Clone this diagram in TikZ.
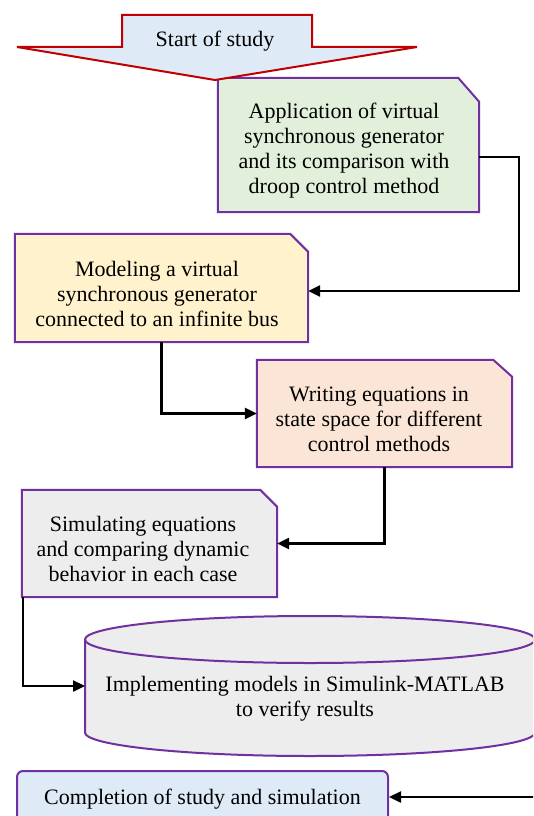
\documentclass[tikz,border=0pt]{standalone}
\usepackage{fontspec}
\setmainfont{Liberation Serif}
\usetikzlibrary{arrows.meta,backgrounds}
\definecolor{purp}{HTML}{7030A0}
\definecolor{redb}{HTML}{C00000}
\definecolor{fgreen}{HTML}{E2EFDA}
\definecolor{fyellow}{HTML}{FFF2CC}
\definecolor{fpeach}{HTML}{FBE5D6}
\definecolor{fgray}{HTML}{EDEDED}
\definecolor{fblue}{HTML}{DEEBF7}
\tikzset{
  boxarea/.style={rectangle, draw=none, inner sep=0pt},
  txt/.style={align=center, font=\fontsize{22}{25}\selectfont, inner sep=0pt},
  outline/.style={draw=purp, line width=2pt, line join=miter},
  conn/.style={draw=black, line width=2.4pt, -{Triangle[length=12pt,width=11pt]}},
}
\begin{document}
\begin{tikzpicture}[x=1pt,y=-1pt]
\useasboundingbox (0,0) rectangle (533,816);
\clip (0,0) rectangle (533,816);

% box areas
\node[boxarea, minimum width=261pt, minimum height=134pt] (b1) at (348.5,145) {};
\node[boxarea, minimum width=293pt, minimum height=108pt] (b2) at (161.5,288) {};
\node[boxarea, minimum width=255pt, minimum height=107pt] (b3) at (384.5,413.5) {};
\node[boxarea, minimum width=255pt, minimum height=107pt] (b4) at (149.5,543.5) {};

\begin{scope}[on background layer]
  \path[outline, fill=fgreen] (b1.south west) -- (b1.south east) -- ([yshift=-24pt]b1.north east) -- ([xshift=-21pt]b1.north east) -- (b1.north west) -- cycle;
  \path[outline, fill=fyellow] (b2.south west) -- (b2.south east) -- ([yshift=-18pt]b2.north east) -- ([xshift=-18pt]b2.north east) -- (b2.north west) -- cycle;
  \path[outline, fill=fpeach] (b3.south west) -- (b3.south east) -- ([yshift=-17pt]b3.north east) -- ([xshift=-19pt]b3.north east) -- (b3.north west) -- cycle;
  \path[outline, fill=fgray] (b4.south west) -- (b4.south east) -- ([yshift=-17pt]b4.north east) -- ([xshift=-17pt]b4.north east) -- (b4.north west) -- cycle;
\end{scope}

% texts
\node[txt] (t1) at (344,151) {Application of virtual\\synchronous generator\\and its comparison with\\droop control method};
\node[txt] (t2) at (157,294) {Modeling a virtual\\synchronous generator\\connected to an infinite bus};
\node[txt] (t3) at (379,419) {Writing equations in\\state space for different\\control methods};
\node[txt] (t4) at (143,549) {Simulating equations\\and comparing dynamic\\behavior in each case};

% cylinder
\path[outline, fill=fgray] (85,639.5) -- (85,732.5) arc[start angle=180, end angle=360, x radius=225pt, y radius=23.5pt] -- (535,639.5) -- cycle;
\path[outline, fill=fgray] (310,639.5) ellipse [x radius=225pt, y radius=23.5pt];
\coordinate (cylw) at (85,686);
\node[txt] (t5) at (305,699) {Implementing models in Simulink-MATLAB\\to verify results};

% final box
\node[txt, draw=purp, line width=2pt, fill=fblue, rounded corners=6pt, minimum width=371pt, minimum height=56pt] (b6) at (202.5,799) {Completion of study and simulation};
\coordinate (rin) at (540,797);

% connectors
\draw[conn] ([yshift=-12pt]b1.east) -- ++(40,0) |- ([yshift=-3pt]b2.east);
\draw[conn] (b2.south) |- (b3.west);
\draw[conn] (b3.south) |- (b4.east);
\draw[conn] ([xshift=1pt]b4.south west) |- (cylw);
\draw[conn] (rin) -- (b6.east |- rin);

% start arrow
\path[draw=redb, line width=2pt, fill=fblue, line join=miter] (122,15) -- (312,15) -- (312,47) -- (417,47) -- (215,80) -- (17,47) -- (122,47) -- cycle;
\node[txt] (start) at (215,41) {Start of study};
\end{tikzpicture}
\end{document}
